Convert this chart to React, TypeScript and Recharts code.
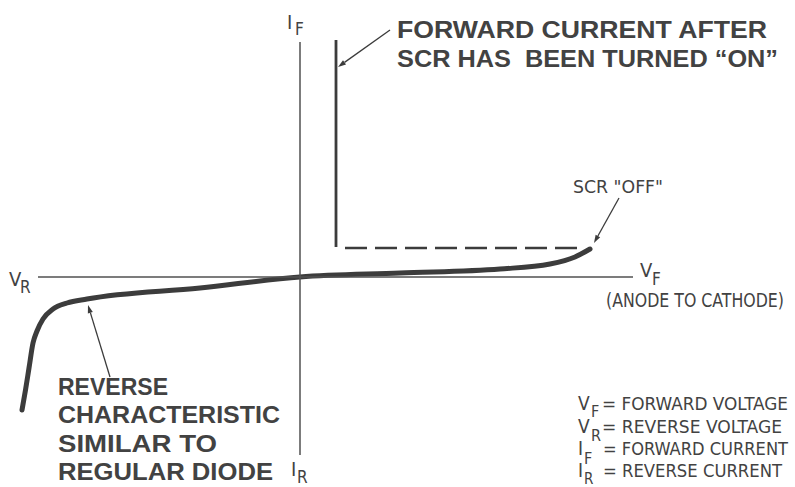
import React from 'react';
import { ComposedChart, Line, Area, XAxis, YAxis, ReferenceLine } from 'recharts';

// Blocking characteristic (reverse + forward "off" region), arbitrary units
const blockV = [-27.8, -27.45, -27.1, -26.7, -26.3, -25.7, -24.7, -23.3, -21.3, -10.0, 0, 10, 20, 25, 27.5, 29.0];
const blockI = [-13.3, -11.3, -9.1, -6.6, -5.4, -4.2, -3.2, -2.6, -2.2, -1.1, 0, 0.4, 0.8, 1.3, 2.0, 2.8];

// Forward current after SCR turned "ON"
const onV = [3.6, 3.6];
const onI = [23.7, 3.0];

// Dashed switching line (SCR "OFF" -> "ON")
const offV = [4.5, 27.8];
const offI = [2.9, 2.9];

// Axis extents
const axisV = [-26.2, 33.3];
const axisI = [23.5, -17.8];

// Leader lines [from, to]
const leaderOnFrom = [9.0, 24.7];
const leaderOnTo = [3.8, 21.0];
const leaderOffFrom = [31.9, 7.9];
const leaderOffTo = [29.4, 3.4];
const leaderRevFrom = [-19.0, -10.0];
const leaderRevTo = [-21.2, -2.8];

const domainV = [-30, 49.5];
const domainI = [-21.0, 27.7];

const zip = (xs: number[], ys: number[]) => xs.map((x, k) => ({ v: x, i: ys[k] }));

const INK = '#3c3c3c';
const TXT = '#424242';

const Arrow = (props: any) => {
  const { x1, y1, x2, y2 } = props;
  const dx = x2 - x1;
  const dy = y2 - y1;
  const len = Math.sqrt(dx * dx + dy * dy) || 1;
  const ux = dx / len;
  const uy = dy / len;
  const hl = 8;
  const hw = 2.6;
  const bx = x2 - ux * hl;
  const by = y2 - uy * hl;
  const pts = `${x2},${y2} ${bx - uy * hw},${by + ux * hw} ${bx + uy * hw},${by - ux * hw}`;
  return (
    <g>
      <line x1={x1} y1={y1} x2={bx} y2={by} stroke={INK} strokeWidth={1.3} />
      <polygon points={pts} fill={INK} />
    </g>
  );
};

const bold = { fontFamily: '"Liberation Sans", Arial, sans-serif', fontWeight: 700, fill: TXT };
const narrow = { fontFamily: '"Liberation Sans Narrow", "DejaVu Sans Condensed", "Liberation Sans", sans-serif', fontWeight: 400, fill: TXT };

export default function App() {
  return (
    <div style={{ position: 'absolute', left: 0, top: 0, width: 795, height: 487, background: '#ffffff' }}>
      <ComposedChart width={795} height={487} margin={{ top: 0, right: 0, bottom: 0, left: 0 }}>
        <XAxis type="number" dataKey="v" domain={domainV} hide allowDataOverflow />
        <YAxis type="number" dataKey="i" domain={domainI} hide allowDataOverflow />
        <ReferenceLine
          segment={[{ x: axisV[0], y: 0 }, { x: axisV[1], y: 0 }]}
          stroke="#505050"
          strokeWidth={1.5}
        />
        <ReferenceLine
          segment={[{ x: 0, y: axisI[0] }, { x: 0, y: axisI[1] }]}
          stroke="#505050"
          strokeWidth={1.5}
        />
        <Line
          data={zip(offV, offI)}
          dataKey="i"
          stroke={INK}
          strokeWidth={2.5}
          strokeDasharray="22 8"
          dot={false}
          activeDot={false}
          isAnimationActive={false}
        />
        <Line
          data={zip(onV, onI)}
          dataKey="i"
          stroke={INK}
          strokeWidth={2.8}
          dot={false}
          activeDot={false}
          isAnimationActive={false}
        />
        <Area
          data={zip(blockV, blockI)}
          dataKey="i"
          type="monotone"
          stroke={INK}
          strokeWidth={5}
          strokeLinecap="round"
          strokeLinejoin="round"
          fill="none"
          fillOpacity={0}
          dot={false}
          activeDot={false}
          isAnimationActive={false}
        />
        <ReferenceLine
          segment={[{ x: leaderOnFrom[0], y: leaderOnFrom[1] }, { x: leaderOnTo[0], y: leaderOnTo[1] }]}
          shape={Arrow}
        />
        <ReferenceLine
          segment={[{ x: leaderOffFrom[0], y: leaderOffFrom[1] }, { x: leaderOffTo[0], y: leaderOffTo[1] }]}
          shape={Arrow}
        />
        <ReferenceLine
          segment={[{ x: leaderRevFrom[0], y: leaderRevFrom[1] }, { x: leaderRevTo[0], y: leaderRevTo[1] }]}
          shape={Arrow}
        />
      </ComposedChart>
      <svg
        width={795}
        height={487}
        style={{ position: 'absolute', left: 0, top: 0, pointerEvents: 'none' }}
      >
        {/* top annotation */}
        <text x={397} y={38} fontSize={23} {...bold} textLength={370} lengthAdjust="spacingAndGlyphs">FORWARD CURRENT AFTER</text>
        <text x={397} y={67} fontSize={23} {...bold} textLength={381} lengthAdjust="spacingAndGlyphs" style={{ whiteSpace: 'pre' }}>SCR HAS  BEEN TURNED “ON”</text>

        {/* reverse annotation */}
        <text x={58} y={395} fontSize={23} {...bold} textLength={110} lengthAdjust="spacingAndGlyphs">REVERSE</text>
        <text x={58} y={423} fontSize={23} {...bold} textLength={222} lengthAdjust="spacingAndGlyphs">CHARACTERISTIC</text>
        <text x={58} y={452} fontSize={23} {...bold} textLength={159} lengthAdjust="spacingAndGlyphs">SIMILAR TO</text>
        <text x={58} y={480} fontSize={23} {...bold} textLength={215} lengthAdjust="spacingAndGlyphs">REGULAR DIODE</text>

        {/* SCR OFF */}
        <text x={573} y={193} fontSize={18} {...narrow} textLength={90} lengthAdjust="spacingAndGlyphs">SCR "OFF"</text>

        {/* axis labels */}
        <text x={287} y={29} fontSize={20} {...narrow}>I</text>
        <text x={295} y={35} fontSize={17} {...narrow}>F</text>

        <text x={9} y={286} fontSize={20} {...narrow}>V</text>
        <text x={20} y={293} fontSize={17} {...narrow}>R</text>

        <text x={291} y={476} fontSize={20} {...narrow}>I</text>
        <text x={297} y={483} fontSize={17} {...narrow}>R</text>

        <text x={640} y={277} fontSize={20} {...narrow}>V</text>
        <text x={652} y={285} fontSize={17} {...narrow}>F</text>
        <text x={606} y={307} fontSize={19} {...narrow} textLength={178} lengthAdjust="spacingAndGlyphs">(ANODE TO CATHODE)</text>

        {/* definitions */}
        <text x={578} y={410} fontSize={19} {...narrow}>V</text>
        <text x={591} y={417} fontSize={16} {...narrow}>F</text>
        <text x={602} y={410} fontSize={18} {...narrow} textLength={186} lengthAdjust="spacingAndGlyphs">= FORWARD VOLTAGE</text>

        <text x={578} y={433} fontSize={19} {...narrow}>V</text>
        <text x={591} y={441} fontSize={16} {...narrow}>R</text>
        <text x={602} y={433} fontSize={18} {...narrow} textLength={180} lengthAdjust="spacingAndGlyphs">= REVERSE VOLTAGE</text>

        <text x={578} y={455} fontSize={19} {...narrow}>I</text>
        <text x={584} y={464} fontSize={16} {...narrow}>F</text>
        <text x={603} y={455} fontSize={18} {...narrow} textLength={185} lengthAdjust="spacingAndGlyphs">= FORWARD CURRENT</text>

        <text x={578} y={477} fontSize={19} {...narrow}>I</text>
        <text x={584} y={484} fontSize={15} {...narrow}>R</text>
        <text x={603} y={477} fontSize={18} {...narrow} textLength={179} lengthAdjust="spacingAndGlyphs">= REVERSE CURRENT</text>
      </svg>
    </div>
  );
}
